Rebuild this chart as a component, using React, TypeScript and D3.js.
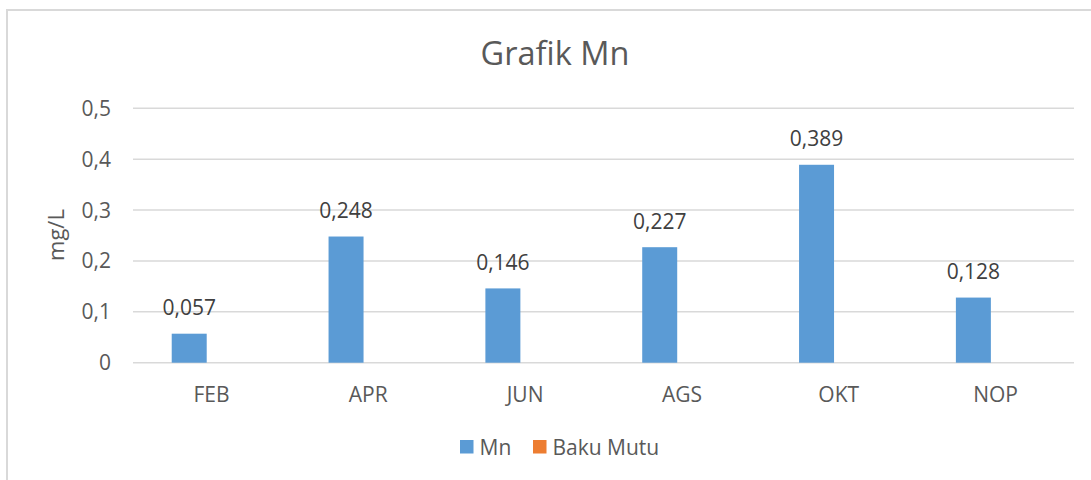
import React from "react";
import * as d3 from "d3";

const categories = ["FEB", "APR", "JUN", "AGS", "OKT", "NOP"];
const series = ["Mn", "Baku Mutu"];
const mnValues = [0.057, 0.248, 0.146, 0.227, 0.389, 0.128];
const bakuMutuValues = [0, 0, 0, 0, 0, 0];
const yTicks = [0, 0.1, 0.2, 0.3, 0.4, 0.5];
const seriesColors = ["#5B9BD5", "#ED7D31"];

const W = 1091;
const H = 480;
const FONT = "'Open Sans', 'Noto Sans', sans-serif";
const TEXT = "#595959";
const GRID = "#D9D9D9";

export default function App() {
  const plotLeft = 133;
  const plotRight = 1074;
  const x0 = d3.scaleBand<string>().domain(categories).range([plotLeft, plotRight]).paddingInner(0).paddingOuter(0);
  const step = x0.step();
  const x1 = d3.scaleBand<string>().domain(series).range([0, step]).paddingInner(0.212).paddingOuter(0.872);
  const y = d3.scaleLinear().domain([0, 0.5]).range([362.7, 108.3]);
  const fmt = (v: number) => String(v).replace(".", ",");
  const data = [mnValues, bakuMutuValues];

  return (
    <svg width={W} height={H} style={{ position: "fixed", left: 0, top: 0, display: "block", background: "#fff" }}>
      <rect x={7} y={10} width={W + 20} height={H + 20} fill="#fff" stroke={GRID} strokeWidth={2} />
      <text x={555} y={65} textAnchor="middle" fontFamily={FONT} fontSize={32.5} fill={TEXT}>Grafik Mn</text>
      {yTicks.map((t) => (
        <g key={t}>
          <line x1={plotLeft} x2={plotRight} y1={y(t)} y2={y(t)} stroke={GRID} strokeWidth={1.5} />
          <text x={111} y={y(t) + 7.5} textAnchor="end" fontFamily={FONT} fontSize={21} fill={TEXT}>{fmt(t)}</text>
        </g>
      ))}
      <text transform={`translate(64,235) rotate(-90)`} textAnchor="middle" fontFamily={FONT} fontSize={22} fill={TEXT}>mg/L</text>
      {series.map((s, si) =>
        categories.map((c, ci) => {
          const v = data[si][ci];
          const bx = (x0(c) as number) + (x1(s) as number);
          return (
            <g key={s + c}>
              {v > 0 && (
                <rect x={bx} y={y(v)} width={x1.bandwidth()} height={y(0) - y(v)} fill={seriesColors[si]} />
              )}
              {si === 0 && (
                <text x={bx + x1.bandwidth() / 2} y={y(v) - 18.5} textAnchor="middle" fontFamily={FONT} fontSize={21} fill="#404040">{fmt(v)}</text>
              )}
            </g>
          );
        })
      )}
      {categories.map((c) => (
        <text key={c} x={(x0(c) as number) + step / 2} y={401.5} textAnchor="middle" fontFamily={FONT} fontSize={21} fill={TEXT}>{c}</text>
      ))}
      <g>
        <rect x={460} y={440} width={13.5} height={13.5} fill={seriesColors[0]} />
        <text x={479.5} y={454.5} fontFamily={FONT} fontSize={21} fill={TEXT}>{series[0]}</text>
        <rect x={533} y={440} width={13.5} height={13.5} fill={seriesColors[1]} />
        <text x={552.5} y={454.5} fontFamily={FONT} fontSize={21} fill={TEXT}>{series[1]}</text>
      </g>
    </svg>
  );
}
